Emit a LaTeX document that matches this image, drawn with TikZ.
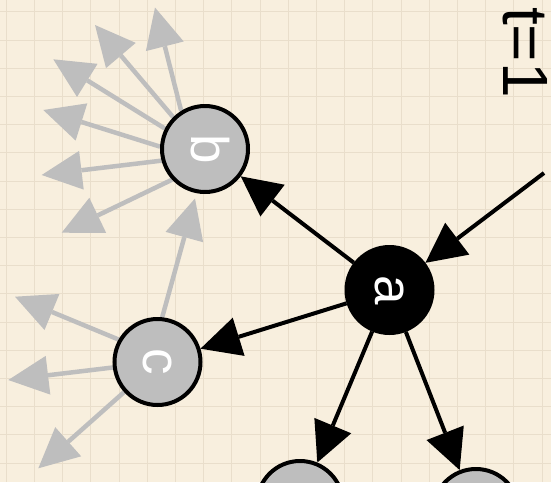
\documentclass[tikz,border=0pt]{standalone}
\usepackage{fontspec}
\setmainfont{Liberation Sans}
\usetikzlibrary{arrows.meta}
\definecolor{paper}{RGB}{248,239,222}
\definecolor{gridc}{RGB}{233,222,203}
\definecolor{edgegray}{RGB}{190,190,190}
\pgfdeclarelayer{bg}
\pgfdeclarelayer{edges}
\pgfsetlayers{bg,edges,main}
\begin{document}
\begin{tikzpicture}[x=1pt,y=-1pt,
  blacknode/.style={circle, draw=black, fill=black, line width=4pt, minimum size=86pt,
    inner sep=0pt, text=white, font=\fontsize{53}{53}\selectfont, rotate=-90,
    text height=28pt, text depth=0pt},
  graynode/.style={blacknode, fill=edgegray},
  blackedge/.style={draw=black, line width=4pt, -{Triangle[length=40pt,width=40pt,line width=0pt]}},
  grayedge/.style={draw=edgegray, line width=4.5pt, -{Triangle[length=40pt,width=39pt,line width=0pt]}},
  gridline/.style={draw=gridc, line width=0.8pt}
]
\useasboundingbox (0,0) rectangle (551,482);
\begin{pgfonlayer}{bg}
  \fill[paper] (0,0) rectangle (551,482);
  \foreach \i in {0,...,19} \draw[gridline] ({6.2+\i*28.2},0) -- ({6.2+\i*28.2},482);
  \foreach \i in {0,...,16} \draw[gridline] (0,{11.7+\i*28.2}) -- (551,{11.7+\i*28.2});
\end{pgfonlayer}

% nodes
\node[blacknode] (a) at (389.5,290) {a};
\node[graynode] (b) at (205,149) {b};
\node[graynode] (c) at (157.5,362) {c};
\node[graynode] (d) at (300,504) {};
\node[graynode] (e) at (476,512) {};
\node[rotate=-90, anchor=base west, inner sep=0pt, font=\fontsize{64}{64}\selectfont] (t) at (503,7) {t=1};

% free ends
\coordinate (src) at (544,173);
\coordinate (b1) at (155,7.5);
\coordinate (b2) at (95,25);
\coordinate (b3) at (53.3,59.3);
\coordinate (b4) at (43.3,110);
\coordinate (b5) at (41.7,175);
\coordinate (b6) at (61.7,232.7);
\coordinate (cb) at (195,198.5);
\coordinate (c1) at (15,296.7);
\coordinate (c2) at (8.3,380);
\coordinate (c3) at (38.3,468.3);

\begin{pgfonlayer}{edges}
  \draw[blackedge] (src) -- (a);
  \draw[blackedge] (a) -- (b);
  \draw[blackedge] (a) -- (c);
  \draw[blackedge] (a) -- (d);
  \draw[blackedge] (a) -- (e);
  \draw[grayedge] (b.212.7) -- (b1);
  \draw[grayedge] (b.225.9) -- (b2);
  \draw[grayedge] (b.243.4) -- (b3);
  \draw[grayedge] (b.267.5) -- (b4);
  \draw[grayedge] (b.285.5) -- (b5);
  \draw[grayedge] (b.313) -- (b6);
  \draw[grayedge] (c.174) -- (cb);
  \draw[grayedge] (c.240.9) -- (c1);
  \draw[grayedge] (c.277.6) -- (c2);
  \draw[grayedge] (c.312.5) -- (c3);
\end{pgfonlayer}
\end{tikzpicture}
\end{document}
